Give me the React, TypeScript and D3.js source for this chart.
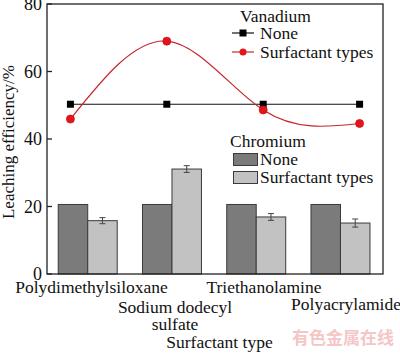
import React from "react";
import * as d3 from "d3";

const categories = ["Polydimethylsiloxane", "Sodium dodecyl sulfate", "Triethanolamine", "Polyacrylamide"];
const vanadiumNone = [50.3, 50.3, 50.3, 50.3];
const vanadiumSurf = [45.9, 69.0, 48.6, 44.6];
const chromiumNone = [20.6, 20.6, 20.6, 20.6];
const chromiumSurf = [15.8, 31.1, 16.9, 15.1];
const chromiumErr = [0.9, 1.0, 1.0, 1.2];
const yTicks = [0, 20, 40, 60, 80];

const W = 400, H = 354;
const L = 47, R = 383, T = 4, B = 274;
const FONT = "Liberation Serif";

export default function App() {
  const y = d3.scaleLinear().domain([0, 80]).range([B, T]);
  const xp = d3.scalePoint<string>().domain(categories).range([L, R]).padding(0.243);
  const xb = d3.scaleBand<string>().domain(categories).range([L - 1.4, R - 0.4]).paddingInner(0.3).paddingOuter(0.15);
  const bw = xb.bandwidth() / 2;
  const line = d3.line<number>().x((_, i) => xp(categories[i])!).y((d) => y(d));
  const curve = d3.line<number>().x((_, i) => xp(categories[i])!).y((d) => y(d)).curve(d3.curveNatural);

  const darkFill = "#7b7b7b";
  const lightFill = "#c2c2c2";
  const barStroke = "#3a3a3a";
  const red = "#e3141b";
  const redLine = "#c3262c";
  const ts = { fontFamily: FONT };

  const labelPos: { x: number; lines: string[]; y: number }[] = [
    { x: 91.5, lines: ["Polydimethylsiloxane"], y: 293 },
    { x: 175, lines: ["Sodium dodecyl", "sulfate"], y: 313 },
    { x: 264, lines: ["Triethanolamine"], y: 293 },
    { x: 346, lines: ["Polyacrylamide"], y: 310 },
  ];

  return (
    <svg width={W} height={H} style={{ position: "absolute", left: 0, top: 0, background: "#fff", fontFamily: FONT }}>
      <rect x={0} y={0} width={W} height={H} fill="#fff" />
      {categories.map((c, i) => {
        const x0 = xb(c)!;
        return (
          <g key={c}>
            <rect x={x0} y={y(chromiumNone[i])} width={bw} height={B - y(chromiumNone[i])} fill={darkFill} stroke={barStroke} strokeWidth={1} />
            <rect x={x0 + bw} y={y(chromiumSurf[i])} width={bw} height={B - y(chromiumSurf[i])} fill={lightFill} stroke={barStroke} strokeWidth={1} />
            <g stroke="#444" strokeWidth={1}>
              <line x1={x0 + bw * 1.5} x2={x0 + bw * 1.5} y1={y(chromiumSurf[i] + chromiumErr[i])} y2={y(chromiumSurf[i] - chromiumErr[i])} />
              <line x1={x0 + bw * 1.5 - 3} x2={x0 + bw * 1.5 + 3} y1={y(chromiumSurf[i] + chromiumErr[i])} y2={y(chromiumSurf[i] + chromiumErr[i])} />
              <line x1={x0 + bw * 1.5 - 3} x2={x0 + bw * 1.5 + 3} y1={y(chromiumSurf[i] - chromiumErr[i])} y2={y(chromiumSurf[i] - chromiumErr[i])} />
            </g>
          </g>
        );
      })}
      <path d={line(vanadiumNone)!} fill="none" stroke="#111" strokeWidth={1.2} />
      {vanadiumNone.map((v, i) => (
        <rect key={i} x={xp(categories[i])! - 3.5} y={y(v) - 3.5} width={7} height={7} fill="#000" />
      ))}
      <path d={curve(vanadiumSurf)!} fill="none" stroke={redLine} strokeWidth={1.2} />
      {vanadiumSurf.map((v, i) => (
        <circle key={i} cx={xp(categories[i])!} cy={y(v)} r={4} fill={red} stroke="#d01018" strokeWidth={0.8} />
      ))}
      <rect x={L} y={T} width={R - L} height={B - T} fill="none" stroke="#222" strokeWidth={1.3} />
      {yTicks.map((t) => (
        <g key={t}>
          <line x1={L} x2={L + 5} y1={y(t)} y2={y(t)} stroke="#222" strokeWidth={1.3} />
          <text x={L - 5} y={y(t) + 6} textAnchor="end" fontSize={18} fill="#111" style={ts}>{t}</text>
        </g>
      ))}
      {labelPos.map((lp, i) => (
        <text key={i} x={lp.x} y={lp.y} textAnchor="middle" fontSize={17.5} fill="#111" style={ts}>
          {lp.lines.map((s, j) => (
            <tspan key={j} x={lp.x} dy={j === 0 ? 0 : 17.3}>{s}</tspan>
          ))}
        </text>
      ))}
      <text x={219.5} y={348} textAnchor="middle" fontSize={17.5} fill="#111" style={ts}>Surfactant type</text>
      <text transform={`translate(14,142) rotate(-90)`} textAnchor="middle" fontSize={17} fill="#111" style={ts}>Leaching efficiency/%</text>
      <text x={240} y={22} fontSize={17.5} fill="#111" style={ts}>Vanadium</text>
      <line x1={232} x2={254} y1={33} y2={33} stroke="#111" strokeWidth={1.2} />
      <rect x={239.5} y={29.5} width={7} height={7} fill="#000" />
      <text x={260} y={39} fontSize={17.5} fill="#111" style={ts}>None</text>
      <line x1={232} x2={254} y1={52} y2={52} stroke={redLine} strokeWidth={1.2} />
      <circle cx={243} cy={52} r={3.5} fill={red} />
      <text x={260} y={58} fontSize={17.5} fill="#111" style={ts}>Surfactant types</text>
      <text x={230} y={147} fontSize={17.5} fill="#111" style={ts}>Chromium</text>
      <rect x={233.5} y={153.5} width={24} height={12} fill={darkFill} stroke={barStroke} />
      <text x={260} y={165} fontSize={17.5} fill="#111" style={ts}>None</text>
      <rect x={233.5} y={171.5} width={24} height={12} fill={lightFill} stroke={barStroke} />
      <text x={260} y={183} fontSize={17.5} fill="#111" style={ts}>Surfactant types</text>
      <text x={343} y={344} textAnchor="middle" fontSize={17} fontWeight="bold" fill="#f5c6c6" style={{ fontFamily: "Noto Sans CJK SC" }}>有色金属在线</text>
    </svg>
  );
}
